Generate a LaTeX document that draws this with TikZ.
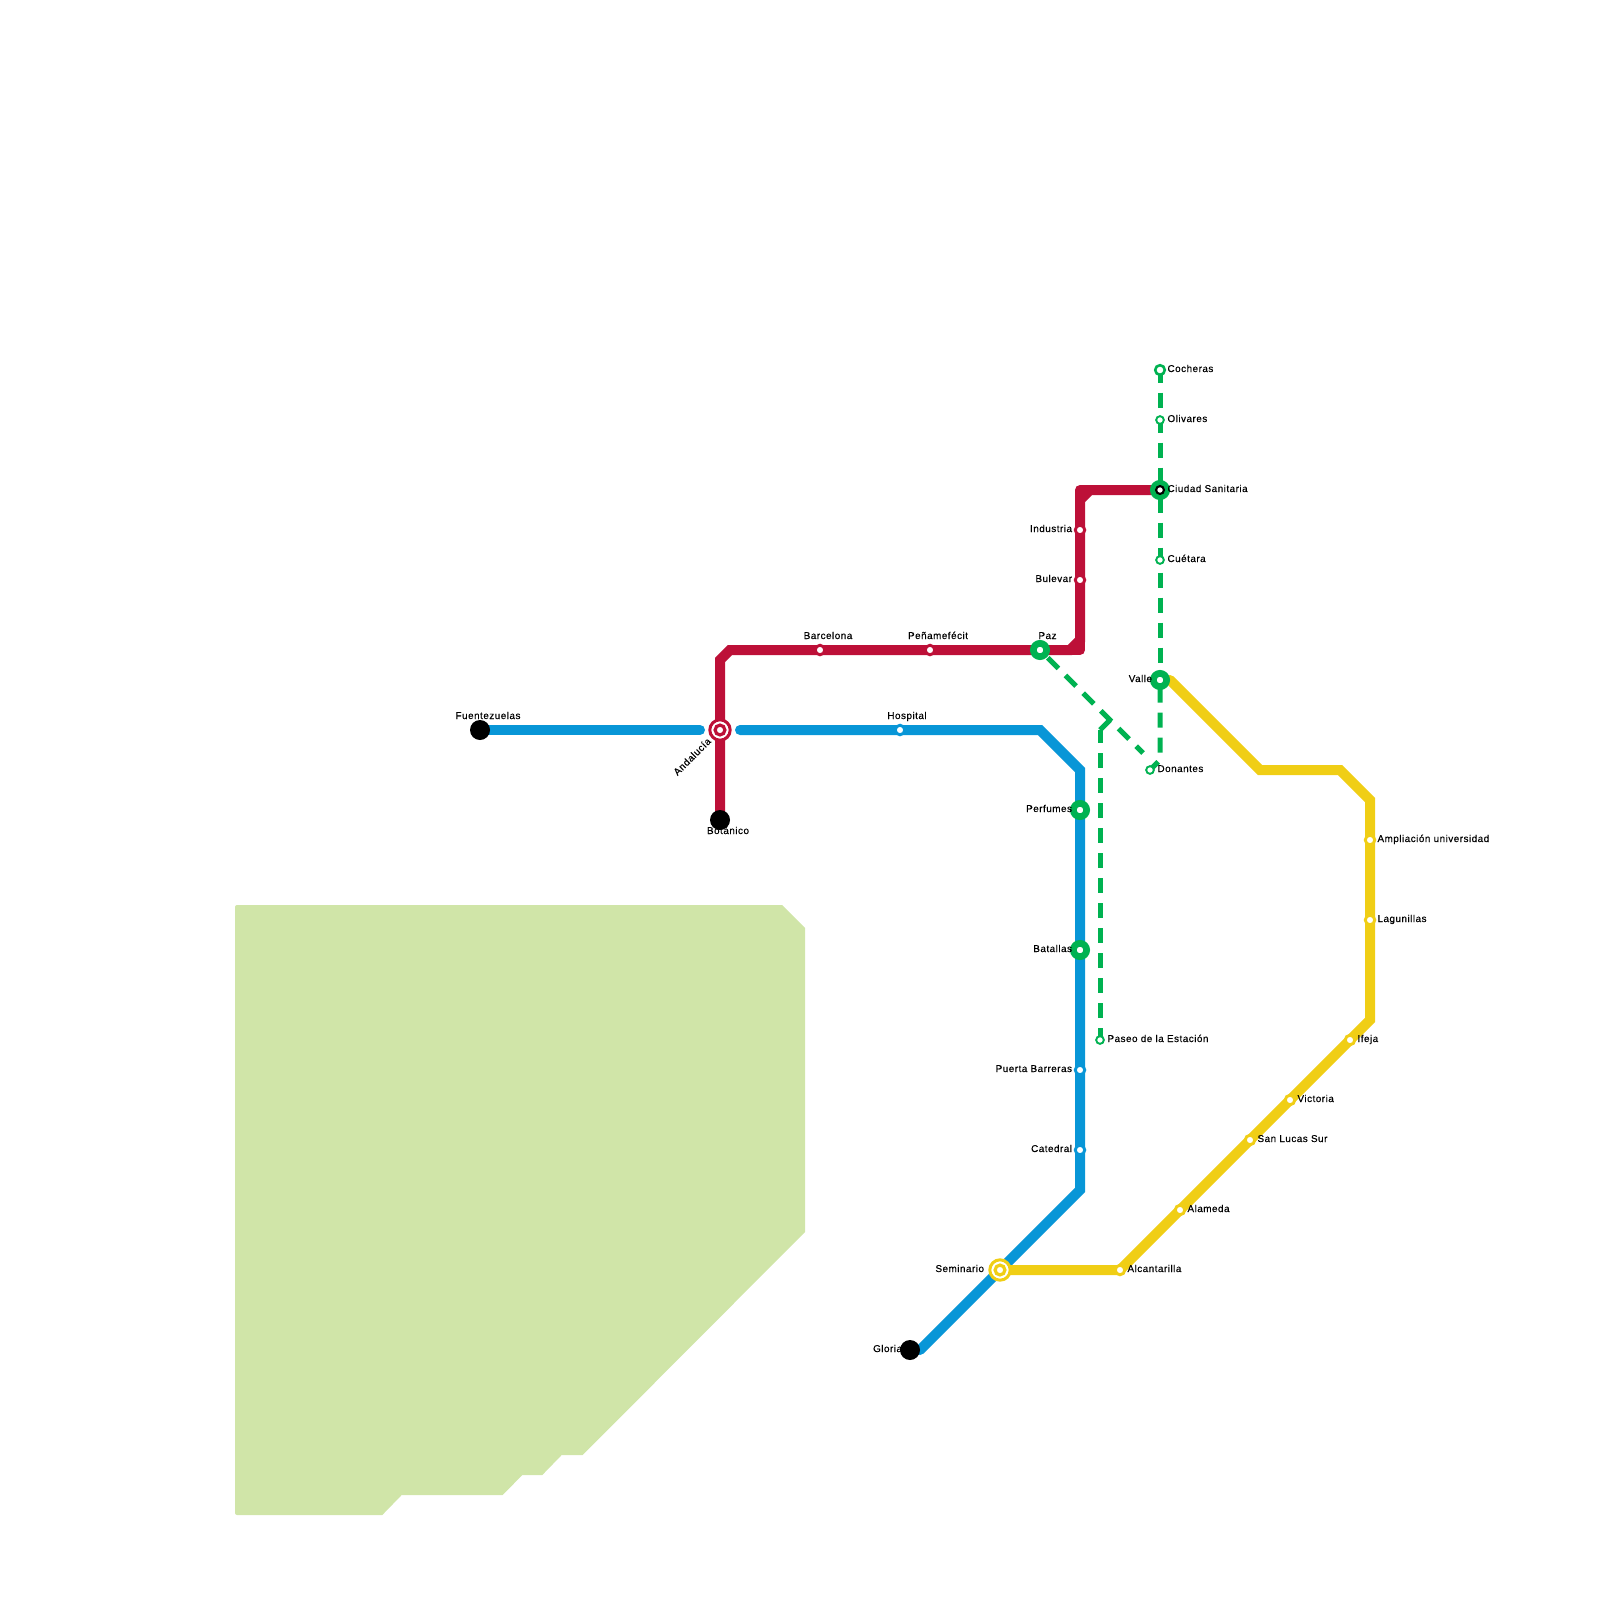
\documentclass[tikz,border=0pt]{standalone}
\usepackage{fontspec}
\setmainfont{Liberation Sans}
\newfontfamily\lblfont{Liberation Sans}[FakeBold=0.4,LetterSpace=5]
\usetikzlibrary{backgrounds}
\definecolor{cred}{HTML}{BD1038}
\definecolor{cblue}{HTML}{0896D7}
\definecolor{cyellow}{HTML}{F0CE15}
\definecolor{cgreen}{HTML}{00B251}
\definecolor{cpark}{HTML}{D0E5A8}
\tikzset{
  x=1bp,y=-1bp,
  lineto/.style={line width=10bp,line cap=round,line join=miter},
  lineg/.style={line width=5bp,draw=cgreen,line cap=butt,line join=miter,dash pattern=on 15bp off 10bp},
  lb/.style={font=\lblfont\fontsize{9.9bp}{12bp}\selectfont,inner sep=0pt,outer sep=0pt,text=black},
  lr/.style={lb,anchor=base west},
  ll/.style={lb,anchor=base east},
  lc/.style={lb,anchor=base},
  stbase/.style={circle,inner sep=0pt,outer sep=0pt},
  stsmall/.style={stbase,fill=white,draw=#1,line width=2.9bp,minimum size=9.5bp},
  stgreen/.style={stbase,fill=white,draw=cgreen,line width=1.9bp,minimum size=7.7bp},
  stgreenb/.style={stbase,fill=white,draw=cgreen,line width=2.6bp,minimum size=9.6bp},
  stlarge/.style={stbase,fill=white,draw=cgreen,line width=6.7bp,minimum size=13.3bp},
  stend/.style={stbase,fill=black,minimum size=20bp},
  stblackin/.style={stbase,fill=white,draw=black,line width=2.1bp,minimum size=7.9bp},
  stouter/.style={stbase,fill=white,draw=#1,line width=3bp,minimum size=20.4bp},
  stinner/.style={stbase,fill=white,draw=#1,line width=3.2bp,minimum size=9.8bp},
}
\begin{document}
\begin{tikzpicture}
\useasboundingbox (0,0) rectangle (1600,1600);
% park
\fill[cpark] (235,1200) [rounded corners=2bp] -- (235,905) -- (600,905) [sharp corners] -- (782,905) -- (805,928) -- (805,1232) -- (582.7,1455) -- (561.7,1455) -- (542.3,1475) -- (522.3,1475) -- (502.7,1495) -- (401.7,1495) -- (382.3,1515) [rounded corners=2bp] -- (235,1515) -- cycle;
% stations: terminals
\node[stend] (fuen) at (480,730) {};
\node[stend] (bota) at (720,820) {};
\node[stend] (glor) at (910,1350) {};
% interchanges
\node[stouter=cred] (anda) at (720,730) {};
\node[stinner=cred] (andai) at (720,730) {};
\node[stouter=cyellow] (semi) at (1000,1270) {};
\node[stinner=cyellow] (semii) at (1000,1270) {};
\node[stlarge] (paz) at (1040,650) {};
\node[stlarge] (vall) at (1160,680) {};
\node[stlarge] (perf) at (1080,810) {};
\node[stlarge] (bata) at (1080,950) {};
\node[stlarge] (ciud) at (1160,490) {};
\node[stblackin] (ciudi) at (1160,490) {};
% small
\node[stsmall=cred] (barc) at (820,650) {};
\node[stsmall=cred] (pena) at (930,650) {};
\node[stsmall=cred] (indu) at (1080,530) {};
\node[stsmall=cred] (bule) at (1080,580) {};
\node[stsmall=cblue] (hosp) at (900,730) {};
\node[stsmall=cblue] (puer) at (1080,1070) {};
\node[stsmall=cblue] (cate) at (1080,1150) {};
\node[stsmall=cyellow] (alca) at (1120,1270) {};
\node[stsmall=cyellow] (alam) at (1180,1210) {};
\node[stsmall=cyellow] (sanl) at (1250,1140) {};
\node[stsmall=cyellow] (vict) at (1290,1100) {};
\node[stsmall=cyellow] (ifej) at (1350,1040) {};
\node[stsmall=cyellow] (lagu) at (1370,920) {};
\node[stsmall=cyellow] (ampl) at (1370,840) {};
\node[stgreenb] (coch) at (1160,370) {};
\node[stgreen] (oliv) at (1160,420) {};
\node[stgreen] (cuet) at (1160,560) {};
\node[stgreen] (dona) at (1150,770) {};
\node[stgreen] (pase) at (1100,1040) {};
% bends and free ends
\coordinate (r1) at (720,660); \coordinate (r2) at (730,650);
\coordinate (r3) at (1070,650); \coordinate (r4) at (1080,640);
\coordinate (r5) at (1080,500); \coordinate (r6) at (1090,490);
\coordinate (r7) at (1080,650); \coordinate (r8) at (1080,490);
\coordinate (b0) at (700,730); \coordinate (b1) at (740,730);
\coordinate (b2) at (1040,730); \coordinate (b3) at (1080,770);
\coordinate (b4) at (1080,1190); \coordinate (b5) at (920,1350);
\coordinate (y1) at (1370,1020); \coordinate (y2) at (1370,800);
\coordinate (y3) at (1340,770); \coordinate (y4) at (1260,770);
\coordinate (y5) at (1170,680);
\coordinate (g1) at (1160,760); \coordinate (g2) at (1110,720);
\coordinate (g3) at (1143,753); \coordinate (g4) at (1100,730);
\begin{scope}[on background layer]
  \draw[lineto,cblue] (fuen.center) -- (b0);
  \draw[lineto,cblue] (b1) -- (b2) -- (b3) -- (b4) -- (b5);
  \draw[lineto,cred] (bota.center) -- (r1) -- (r2) -- (r3) -- (r4) -- (r5) -- (r6) -- (ciud.center);
  \draw[lineto,cred,line cap=round,line join=round] (r3) -- (r7) -- (r4);
  \draw[lineto,cred,line cap=round,line join=round] (r5) -- (r8) -- (r6);
  \draw[lineto,cyellow] (semi.center) -- (alca.center) -- (y1) -- (y2) -- (y3) -- (y4) -- (y5);
  \draw[lineg,dash phase=2.5bp] (coch.center) -- (ciud.center);
  \draw[lineg,dash phase=17.5bp] (ciud.center) -- (vall.center);
  \draw[lineg,dash phase=17.5bp] (vall.center) -- (g1) -- (dona.center);
  \draw[lineg,dash phase=14bp] (paz.center) -- (g2) -- (g3);
  \draw[lineg,dash phase=2.5bp] (pase.center) -- (g4);
  \draw[line width=5bp,cgreen,line join=miter] (g4) -- (g2);
\end{scope}
% labels
\node[lc] (tfuen) at (488,719) {Fuentezuelas};
\node[lc] (tbarc) at (828,639) {Barcelona};
\node[lc] (tpena) at (938,639) {Peñamefécit};
\node[lc] (thosp) at (907,719) {Hospital};
\node[lc] (tpaz) at (1047.5,639) {Paz};
\node[lc] (tbota) at (728,834) {Botánico};
\node[lb,rotate=45] (tanda) at (692,756.5) {Andalucía};
\node[ll] (tindu) at (1072,532) {Industria};
\node[ll] (tbule) at (1072,582) {Bulevar};
\node[ll] (tvall) at (1152,682) {Valle};
\node[ll] (tperf) at (1072,812) {Perfumes};
\node[ll] (tbata) at (1072,952) {Batallas};
\node[ll] (tpuer) at (1072,1072) {Puerta Barreras};
\node[ll] (tcate) at (1072,1152) {Catedral};
\node[ll] (tsemi) at (984,1272) {Seminario};
\node[ll] (tglor) at (902,1352) {Gloria};
\node[lr] (tcoch) at (1167.5,372) {Cocheras};
\node[lr] (toliv) at (1167.5,422) {Olivares};
\node[lr] (tciud) at (1167.5,492) {Ciudad Sanitaria};
\node[lr] (tcuet) at (1167.5,562) {Cuétara};
\node[lr] (tdona) at (1157.5,772) {Donantes};
\node[lr] (tampl) at (1377.5,842) {Ampliación universidad};
\node[lr] (tlagu) at (1377.5,922) {Lagunillas};
\node[lr] (tpase) at (1107.5,1042) {Paseo de la Estación};
\node[lr] (tifej) at (1357.5,1042) {Ifeja};
\node[lr] (tvict) at (1297.5,1102) {Victoria};
\node[lr] (tsanl) at (1257.5,1142) {San Lucas Sur};
\node[lr] (talam) at (1187.5,1212) {Alameda};
\node[lr] (talca) at (1127.5,1272) {Alcantarilla};
\end{tikzpicture}
\end{document}
